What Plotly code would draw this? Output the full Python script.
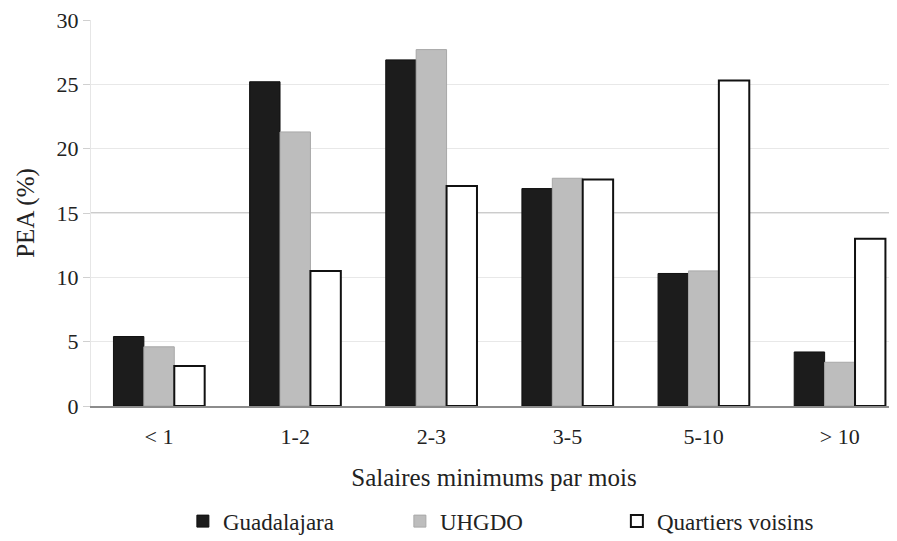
import plotly.graph_objects as go

categories = ["< 1", "1-2", "2-3", "3-5", "5-10", "> 10"]
guadalajara = [5.4, 25.2, 26.9, 16.9, 10.3, 4.2]
uhgdo = [4.6, 21.3, 27.7, 17.7, 10.5, 3.4]
quartiers = [3.1, 10.5, 17.1, 17.6, 25.3, 13.0]
y_ticks = [0, 5, 10, 15, 20, 25, 30]

FAM = "Liberation Serif"

fig = go.Figure()
fig.add_trace(go.Bar(x=categories, y=guadalajara, name="Guadalajara",
                     marker=dict(color="#1c1c1c", line=dict(color="#111111", width=1))))
fig.add_trace(go.Bar(x=categories, y=uhgdo, name="UHGDO",
                     marker=dict(color="#bdbdbd", line=dict(color="#a8a8a8", width=1))))
fig.add_trace(go.Bar(x=categories, y=quartiers, name="Quartiers voisins",
                     marker=dict(color="#ffffff", line=dict(color="#111111", width=2))))

fig.add_shape(type="line", xref="paper", yref="y", x0=0, x1=1, y0=15, y1=15,
              line=dict(color="#9a9a9a", width=1.2), layer="below")

fig.update_layout(
    width=897, height=541,
    margin=dict(l=83, r=8, t=12, b=142),
    barmode="group", bargap=0.33, bargroupgap=0,
    plot_bgcolor="white", paper_bgcolor="white",
    font=dict(family=FAM, size=22, color="#222222"),
    showlegend=True,
    legend=dict(orientation="h", x=0.114, xanchor="left", y=-0.295, yanchor="middle",
                font=dict(family=FAM, size=23, color="#222222"),
                entrywidth=172, traceorder="normal"),
)
fig.update_xaxes(
    range=[-0.5, 5.42], showgrid=False, showline=True, linecolor="#8c8c8c", linewidth=1.5,
    ticks="", ticklabelstandoff=10, tickfont=dict(family=FAM, size=22, color="#222222"),
    automargin=False, ticklabeloverflow="allow",
    title=dict(text="Salaires minimums par mois", font=dict(family=FAM, size=25, color="#222222"),
               standoff=20),
)
fig.update_yaxes(
    range=[0, 30], tickvals=y_ticks, showgrid=True, gridcolor="#e8e8e8", gridwidth=1,
    zeroline=False, showline=True, linecolor="#e6e6e6", ticks="outside", ticklen=7,
    tickcolor="#d0d0d0", tickfont=dict(family=FAM, size=22, color="#222222"),
    automargin=False, ticklabeloverflow="allow",
    title=dict(text="PEA (%)", font=dict(family=FAM, size=25, color="#222222"), standoff=14),
)

fig.write_html("out.html")
